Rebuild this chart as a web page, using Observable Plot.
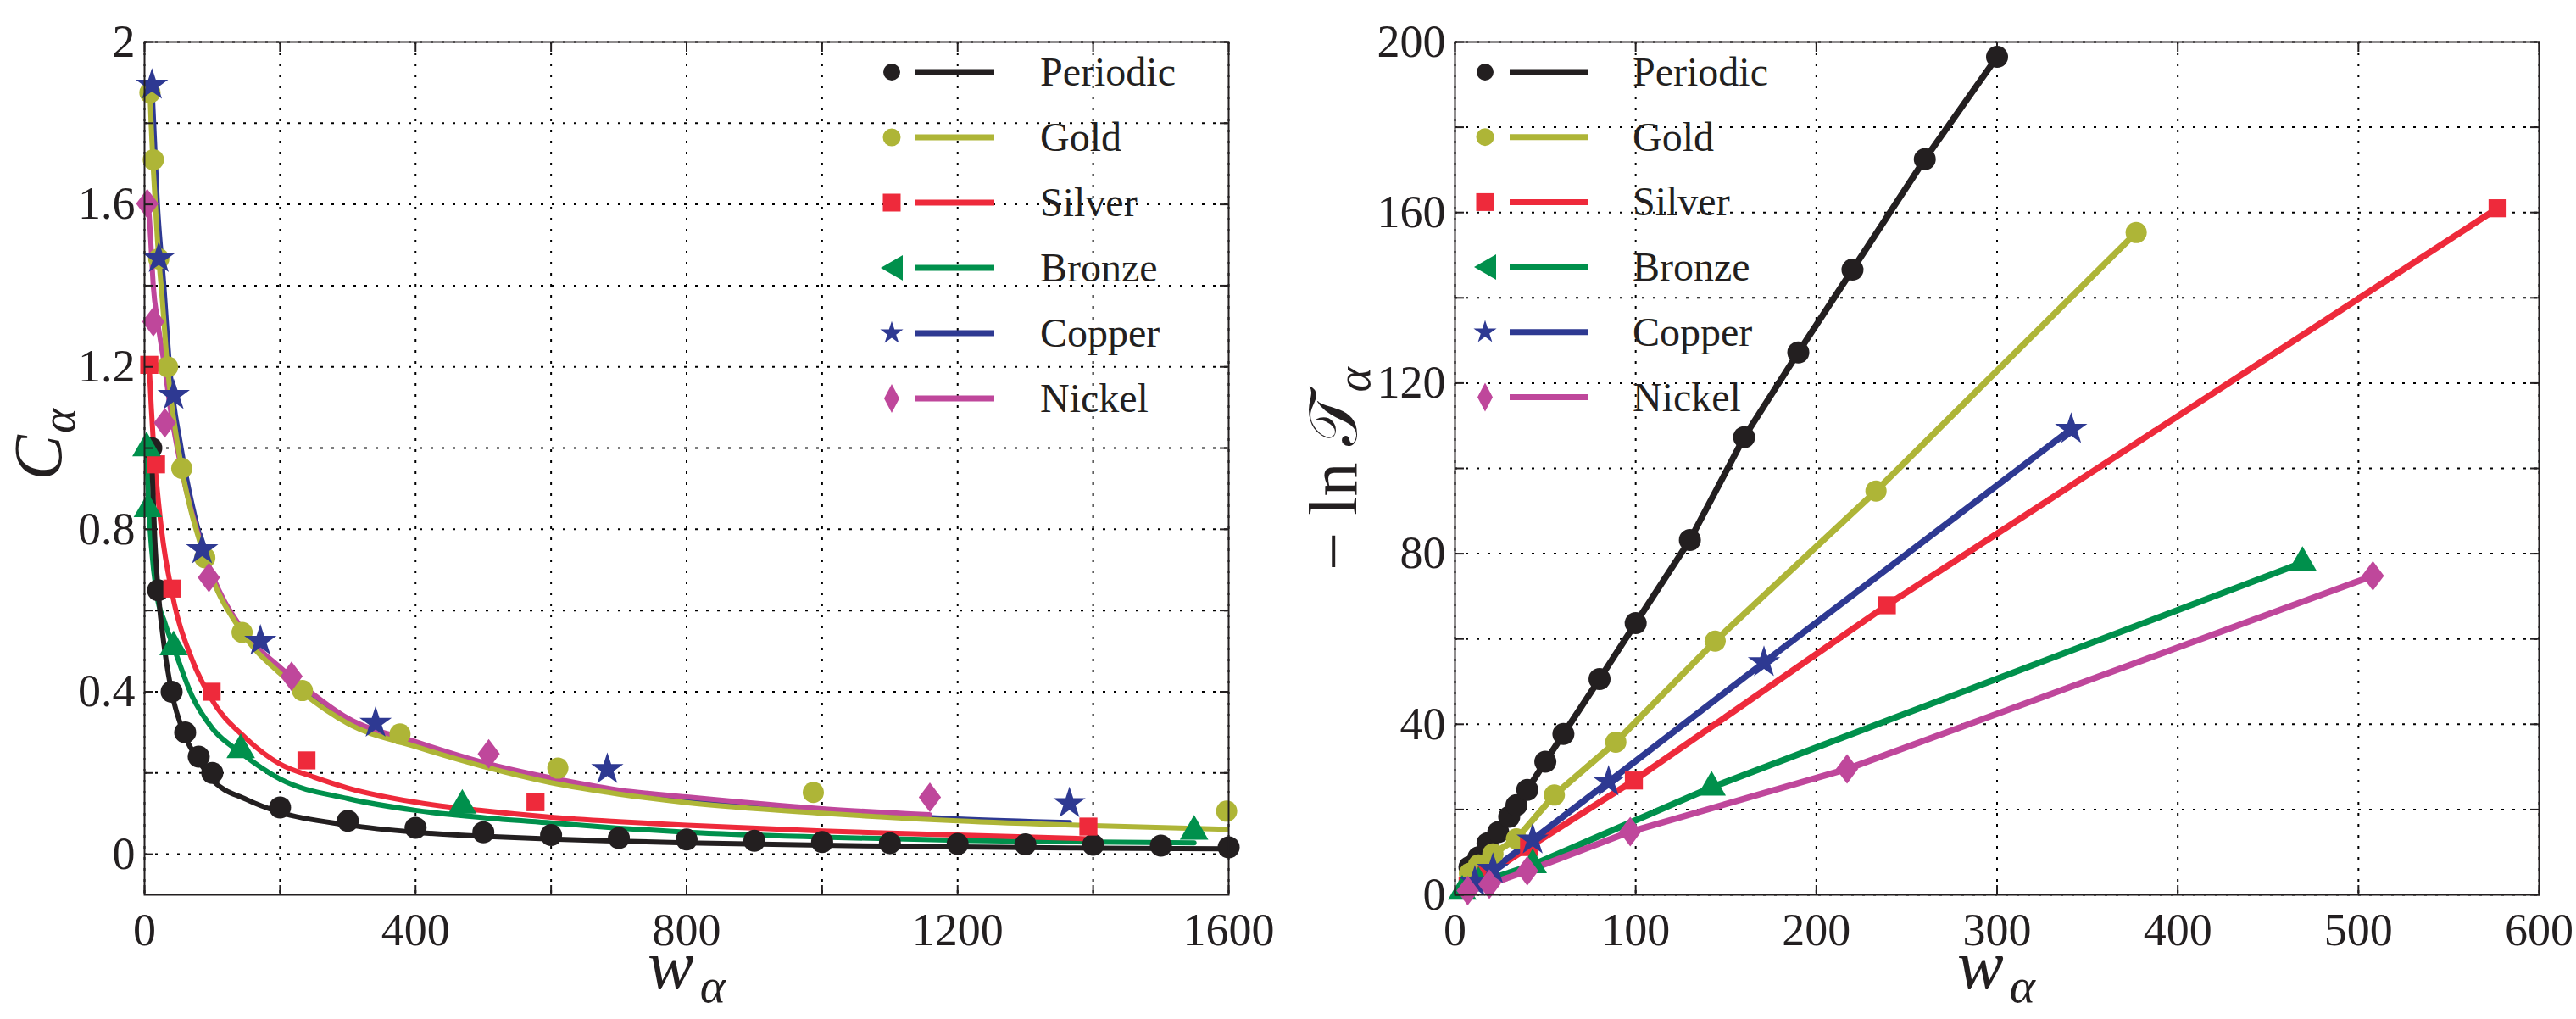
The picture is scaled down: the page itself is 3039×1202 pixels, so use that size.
<!DOCTYPE html>
<html><head><meta charset="utf-8">
<script src="https://cdn.jsdelivr.net/npm/d3@7"></script>
<script src="https://cdn.jsdelivr.net/npm/@observablehq/plot@0.6"></script>
<style>
html,body{margin:0;padding:0;background:#fff;}
#wrap{position:relative;width:3039px;height:1202px;overflow:hidden;background:#fff;}
#left,#right{position:absolute;top:0;}
#left{left:0;} #right{left:1520px;}
</style></head><body><div id="wrap"><div id="left"></div><div id="right"></div></div>
<script>
// ---------- series ----------
const seriesNames  = ["Periodic","Gold","Silver","Bronze","Copper","Nickel"];
const seriesColors = ["#231f20","#aeb537","#ee2a3b","#00904c","#2e3992","#bf479b"];

// ---------- left panel: C_alpha vs w_alpha (markers) ----------
const cPeriodicW = [10,20,40,60,80,100,200,300,400,500,600,700,800,900,1000,1100,1200,1300,1400,1500,1600];
const cPeriodicC = [1.0,0.65,0.40,0.30,0.24,0.20,0.115,0.082,0.065,0.054,0.047,0.040,0.036,0.033,0.030,0.027,0.025,0.024,0.023,0.021,0.017];
const cGoldW = [8,13,21,34,55,89,144,233,377,610,987,1597];
const cGoldC = [1.875,1.71,1.466,1.20,0.95,0.73,0.546,0.403,0.296,0.212,0.152,0.106];
const cSilverW = [7,17,41,99,239,577,1393];
const cSilverC = [1.205,0.96,0.654,0.40,0.231,0.128,0.068];
const cBronzeW = [3,5,43,142,469,1549];
const cBronzeC = [1.0,0.85,0.51,0.257,0.12,0.056];
const cCopperW = [11,21,43,85,171,341,683,1365];
const cCopperC = [1.894,1.467,1.13,0.75,0.525,0.323,0.209,0.125];
const cNickelW = [4,13,30,95,217,508,1159];
const cNickelC = [1.602,1.311,1.062,0.681,0.438,0.247,0.140];

// ---------- left panel: fitted curves ----------
const fitPeriodicW = [10,15,20,30,40,60,80,100,150,200,300,400,500,600,700,800,1000,1200,1400,1600];
const fitPeriodicC = [1.0,0.78,0.65,0.50,0.40,0.29,0.23,0.184,0.135,0.103,0.072,0.054,0.044,0.037,0.032,0.028,0.022,0.018,0.015,0.013];
const fitGoldW = [8,10,16,21,25,34,50,55,89,144,200,233,300,400,500,600,700,800,1000,1200,1400,1597];
const fitGoldC = [1.875,1.79,1.60,1.466,1.39,1.198,0.998,0.95,0.73,0.546,0.445,0.398,0.322,0.265,0.216,0.176,0.148,0.127,0.101,0.082,0.070,0.061];
const fitSilverW = [7,10,13,17,25,41,70,100,150,200,250,300,400,500,600,700,800,1000,1200,1393];
const fitSilverC = [1.20,1.10,1.015,0.93,0.80,0.64,0.48,0.379,0.285,0.222,0.19,0.163,0.128,0.107,0.091,0.080,0.071,0.057,0.047,0.038];
const fitBronzeW = [3,6,10,18,30,45,70,100,142,200,300,400,500,600,700,800,1000,1200,1400,1549];
const fitBronzeC = [1.0,0.86,0.76,0.64,0.57,0.50,0.39,0.31,0.25,0.185,0.137,0.108,0.090,0.077,0.064,0.054,0.042,0.034,0.030,0.028];
const fitCopperW = [11,19,28.5,37,54,85,145,200,233,300,400,500,600,700,800,1000,1200,1365];
const fitCopperC = [1.89,1.60,1.40,1.20,1.0,0.76,0.55,0.455,0.41,0.33,0.272,0.222,0.182,0.153,0.134,0.107,0.087,0.078];
const fitNickelW = [4,7,9,13,19.4,29.8,38,48.5,95,145,200,233,300,400,500,600,700,800,1000,1159];
const fitNickelC = [1.61,1.571,1.516,1.398,1.311,1.198,1.098,0.998,0.71,0.552,0.46,0.415,0.335,0.277,0.226,0.188,0.158,0.141,0.112,0.097];

// ---------- right panel: -ln T_alpha vs w_alpha ----------
const jPeriodicW = [8,13,18,24,30,34,40,50,60,80,100,130,160,190,220,260,300];
const jPeriodicJ = [6.5,8.8,12.1,14.7,18.3,21.0,24.6,31.2,37.7,50.6,63.7,83.2,107.3,127.2,146.6,172.5,196.5];
const jGoldW = [8,13,21,34,55,89,144,233,377];
const jGoldJ = [5.0,7.0,9.6,13.1,23.4,35.8,59.5,94.7,155.3];
const jSilverW = [7,17,41,99,239,577];
const jSilverJ = [2.0,4.6,11.2,26.8,67.9,161.0];
const jBronzeW = [4,13,43,142,469];
const jBronzeJ = [0.8,2.8,7.0,25.2,77.9];
const jCopperW = [11,21,43,85,171,341];
const jCopperJ = [3.0,6.0,12.9,26.5,54.5,109.2];
const jNickelW = [7,19,40,97,217,508];
const jNickelJ = [1.0,2.5,5.6,14.8,29.5,74.8];

// ---------- ticks ----------
const leftXGrid   = [0,200,400,600,800,1000,1200,1400,1600];
const leftXLabels = [0,400,800,1200,1600];
const leftYGrid   = [0,0.2,0.4,0.6,0.8,1,1.2,1.4,1.6,1.8,2];
const leftYLabels = [0,0.4,0.8,1.2,1.6,2];
const rightXGrid   = [0,100,200,300,400,500,600];
const rightXLabels = [0,100,200,300,400,500,600];
const rightYGrid   = [0,20,40,60,80,100,120,140,160,180,200];
const rightYLabels = [0,40,80,120,160,200];

// ---------- helpers ----------
const serif = "Liberation Serif";
const zip = (w, v) => w.map((x, i) => ({x, y: v[i]}));
const tallDiamond = {draw(ctx, size) {
  const r = Math.sqrt(size / Math.PI), w = r * 1.05, h = r * 1.4;
  ctx.moveTo(0, -h); ctx.lineTo(w, 0); ctx.lineTo(0, h); ctx.lineTo(-w, 0); ctx.closePath();
}};
const symbols = ["circle","circle","square","triangle","star",tallDiamond];
const radii   = [13,12.5,12,12.5,12,12.5];
const ink = "#231f20";
const gridStyle = {stroke: "#000", strokeOpacity: 1, strokeWidth: 2, strokeDasharray: "3,10"};
const fmt = d => `${d}`;
const blank = () => "";

function axes(xGrid, xLabels, yGrid, yLabels) {
  const tick = {tickSize: -11, tickFormat: blank, stroke: ink, strokeWidth: 2, label: null};
  return [
    Plot.axisX(xGrid, {anchor: "bottom", ...tick}),
    Plot.axisX(xGrid, {anchor: "top", ...tick}),
    Plot.axisY(yGrid, {anchor: "left", ...tick}),
    Plot.axisY(yGrid, {anchor: "right", ...tick}),
    Plot.axisX(xLabels, {anchor: "bottom", tickSize: 0, tickPadding: 21, tickFormat: fmt, fontSize: 54, fontFamily: serif, fill: ink, label: null}),
    Plot.axisY(yLabels, {anchor: "left", tickSize: 0, tickPadding: 11, tickFormat: fmt, fontSize: 54, fontFamily: serif, fill: ink, label: null}),
    Plot.frame({stroke: ink, strokeWidth: 2})
  ];
}

// ---------- left plot ----------
const leftFits = [
  [fitCopperW, fitCopperC, 4], [fitNickelW, fitNickelC, 5], [fitGoldW, fitGoldC, 1],
  [fitBronzeW, fitBronzeC, 3], [fitSilverW, fitSilverC, 2], [fitPeriodicW, fitPeriodicC, 0]
];
const leftPts = [
  [cPeriodicW, cPeriodicC, 0], [cGoldW, cGoldC, 1], [cSilverW, cSilverC, 2],
  [cBronzeW, cBronzeC, 3], [cCopperW, cCopperC, 4], [cNickelW, cNickelC, 5]
];
const leftSvg = Plot.plot({
  width: 1500, height: 1202,
  marginLeft: 170, marginRight: 51, marginTop: 49, marginBottom: 147,
  x: {domain: [0, 1600], label: null},
  y: {domain: [-0.1, 2], label: null},
  style: {fontFamily: serif, fontSize: "54px", color: ink, background: "white", overflow: "visible"},
  marks: [
    Plot.gridX(leftXGrid, gridStyle),
    Plot.gridY(leftYGrid, gridStyle),
    ...leftFits.map(([w, c, k]) => Plot.line(zip(w, c), {x: "x", y: "y", stroke: seriesColors[k], strokeWidth: 6, curve: "monotone-x"})),
    ...leftPts.map(([w, c, k]) => Plot.dot(zip(w, c), {x: "x", y: "y", fill: seriesColors[k], symbol: symbols[k], r: radii[k]})),
    ...axes(leftXGrid, leftXLabels, leftYGrid, leftYLabels)
  ]
});
document.getElementById("left").appendChild(leftSvg);

// ---------- right plot ----------
const rightSeries = [
  [jPeriodicW, jPeriodicJ, 0], [jGoldW, jGoldJ, 1], [jSilverW, jSilverJ, 2],
  [jBronzeW, jBronzeJ, 3], [jCopperW, jCopperJ, 4], [jNickelW, jNickelJ, 5]
];
const rightSvg = Plot.plot({
  width: 1519, height: 1202,
  marginLeft: 196, marginRight: 44, marginTop: 49, marginBottom: 147,
  x: {domain: [0, 600], label: null},
  y: {domain: [0, 200], label: null},
  style: {fontFamily: serif, fontSize: "54px", color: ink, background: "white", overflow: "visible"},
  marks: [
    Plot.gridX(rightXGrid, gridStyle),
    Plot.gridY(rightYGrid, gridStyle),
    ...rightSeries.map(([w, j, k]) => Plot.line(zip(w, j), {x: "x", y: "y", stroke: seriesColors[k], strokeWidth: 7.5})),
    ...rightSeries.map(([w, j, k]) => Plot.dot(zip(w, j), {x: "x", y: "y", fill: seriesColors[k], symbol: symbols[k], r: radii[k]})),
    ...axes(rightXGrid, rightXLabels, rightYGrid, rightYLabels)
  ]
});
document.getElementById("right").appendChild(rightSvg);

// ---------- legends ----------
const legendShapes = [
  d3.symbol(d3.symbolCircle, Math.PI * 10 * 10)(),
  d3.symbol(d3.symbolCircle, Math.PI * 10.5 * 10.5)(),
  d3.symbol(d3.symbolSquare, 21 * 21)(),
  "M-13,0L13,-15L13,15Z",
  d3.symbol(d3.symbolStar, 230)(),
  "M0,-17L9,0L0,17L-9,0Z"
];
function legend(svg, mx, lx1, lx2, tx, y0, step) {
  const g = d3.select(svg).append("g");
  seriesNames.forEach((name, i) => {
    const cy = y0 + i * step;
    g.append("line").attr("x1", lx1).attr("x2", lx2).attr("y1", cy).attr("y2", cy)
      .attr("stroke", seriesColors[i]).attr("stroke-width", 7);
    g.append("path").attr("d", legendShapes[i]).attr("transform", `translate(${mx},${cy})`)
      .attr("fill", seriesColors[i]);
    g.append("text").attr("x", tx).attr("y", cy + 16).attr("text-anchor", "start")
      .attr("font-size", 48).attr("fill", ink).text(name);
  });
}
legend(leftSvg, 1052, 1080, 1173, 1227, 85, 77);
legend(rightSvg, 232, 261, 353, 406, 85, 76.7);

// ---------- axis titles ----------
function subLabel(svg, x, y, rotate, parts, size, gap) {
  const t = d3.select(svg).append("text")
    .attr("transform", `translate(${x},${y})` + (rotate ? ` rotate(${rotate})` : ""))
    .attr("text-anchor", "middle").attr("font-size", size).attr("fill", ink);
  parts.forEach(p => {
    const s = t.append("tspan").text(p.t);
    if (p.italic) s.style("font-style", "italic");
    if (p.family) s.style("font-family", p.family);
    if (p.sub) s.attr("font-size", size * 0.7).attr("dy", size * 0.2).attr("dx", gap);
  });
}
subLabel(leftSvg, 810, 1166, 0, [{t: "w", italic: true}, {t: "α", italic: true, sub: true}], 82, 7);
subLabel(leftSvg, 72, 524, -90, [{t: "C", italic: true}, {t: "α", italic: true, sub: true}], 80, 2);
subLabel(rightSvg, 835, 1166, 0, [{t: "w", italic: true}, {t: "α", italic: true, sub: true}], 82, 7);
subLabel(rightSvg, 80, 553, -90, [{t: "− ln "}, {t: "𝒯", family: "'DejaVu Serif', 'DejaVu Sans', serif"}, {t: "α", italic: true, sub: true}], 80, 2);

// force the serif face on every text of both panels
d3.selectAll("#wrap svg text").style("font-family", "'Liberation Serif', serif");
d3.selectAll("#wrap svg tspan").filter(function() { return this.textContent === "𝒯"; })
  .style("font-family", "'DejaVu Serif', 'DejaVu Sans', serif");
</script></body></html>
